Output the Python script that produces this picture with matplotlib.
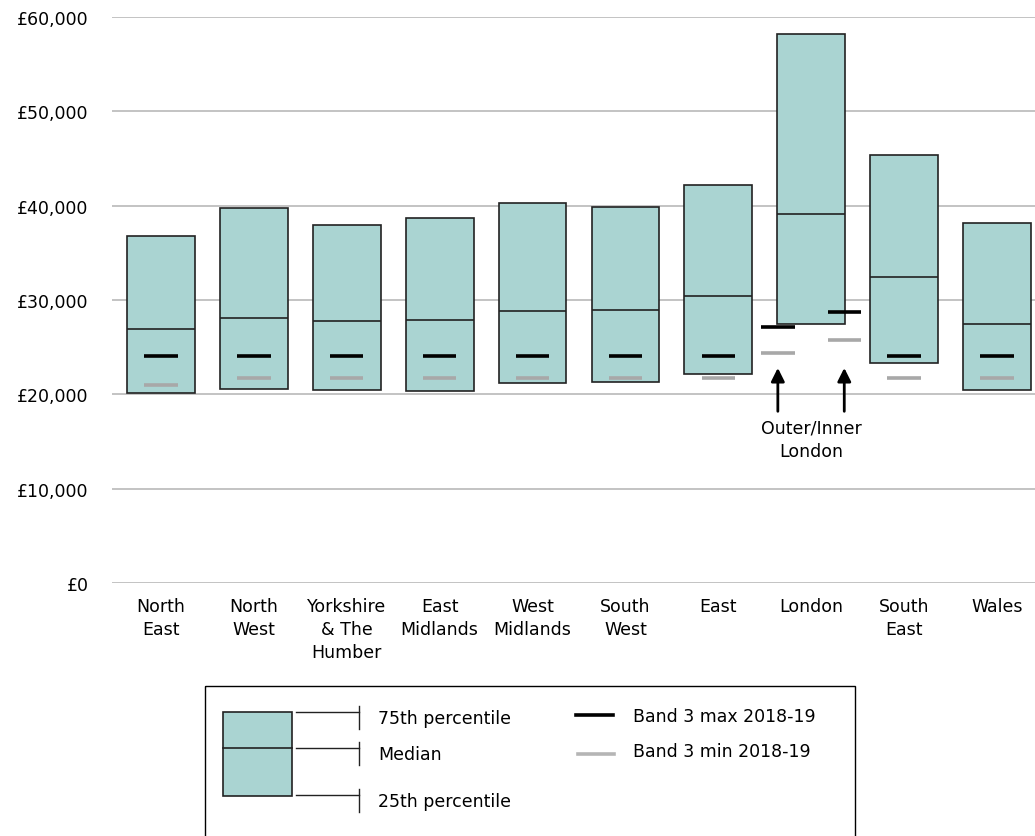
import matplotlib.pyplot as plt
from matplotlib.patches import Rectangle
from matplotlib.ticker import FuncFormatter

plt.rcParams['font.family'] = ['DejaVu Sans']

regions = ["North\nEast", "North\nWest", "Yorkshire\n& The\nHumber", "East\nMidlands",
           "West\nMidlands", "South\nWest", "East", "London", "South\nEast", "Wales"]
p75 = [36800, 39700, 38000, 38700, 40300, 39900, 42200, 58200, 45400, 38200]
median = [26900, 28100, 27800, 27900, 28800, 28900, 30400, 39100, 32400, 27500]
p25 = [20100, 20600, 20500, 20400, 21200, 21300, 22200, 27500, 23300, 20500]

# band 3 pay points; London is split into outer and inner further down
band_max = [24100, 24100, 24100, 24100, 24100, 24100, 24100, None, 24100, 24100]
band_min = [21000, 21700, 21700, 21700, 21700, 21700, 21700, None, 21700, 21700]
london_max = [27100, 28700]   # outer, inner
london_min = [24400, 25800]

yticks = [0, 10000, 20000, 30000, 40000, 50000, 60000]

teal = '#aad4d2'
edge = '#222222'
grey_band = '#a8a8a8'
grid_col = '#b3b3b3'

W, H = 1035, 837
fig = plt.figure(figsize=(W / 100, H / 100), dpi=100)
ax = fig.add_axes([112 / W, 1 - 584 / H, 923 / W, 566 / H])

x = list(range(len(regions)))
bw = 0.73
ax.bar(x, [t - b for t, b in zip(p75, p25)], bottom=p25, width=bw,
       color=teal, edgecolor=edge, linewidth=1.2, zorder=3)
ax.hlines(median, [i - bw / 2 for i in x], [i + bw / 2 for i in x],
          color=edge, linewidth=1.2, zorder=4)

hw = 0.18
for i in x:
    if band_max[i] is not None:
        ax.hlines(band_max[i], i - hw, i + hw, color='black', linewidth=2.6, zorder=5)
        ax.hlines(band_min[i], i - hw, i + hw, color=grey_band, linewidth=2.6, zorder=5)

li = regions.index("London")
for off, mx, mn in zip([-0.36, 0.355], london_max, london_min):
    ax.hlines(mx, li + off - hw, li + off + hw, color='black', linewidth=2.6, zorder=5)
    ax.hlines(mn, li + off - hw, li + off + hw, color=grey_band, linewidth=2.6, zorder=5)
    ax.annotate('', xy=(li + off, 22800), xytext=(li + off, 18200),
                arrowprops=dict(arrowstyle='-|>', color='black', lw=2,
                                mutation_scale=20, shrinkA=0, shrinkB=0))
ax.text(li, 17400, "Outer/Inner\nLondon", ha='center', va='top',
        fontsize=12.5, linespacing=1.35)

ax.set_xlim(-0.527, 9.408)
ax.set_ylim(0, 60000)
ax.set_yticks(yticks)
ax.yaxis.set_major_formatter(FuncFormatter(lambda v, p: f"£{int(v):,}"))
ax.grid(axis='y', color=grid_col, linewidth=1.1, zorder=0)
ax.set_axisbelow(True)
for s in ax.spines.values():
    s.set_visible(False)
ax.set_xticks(x)
ax.set_xticklabels(regions, fontsize=12.5, linespacing=1.35, va='top')
ax.tick_params(axis='both', length=0, labelsize=12.5)
ax.tick_params(axis='y', pad=17)
ax.tick_params(axis='x', pad=10)

# legend drawn in pixel units on an overlay axes
lg = fig.add_axes([0, 0, 1, 1])
lg.set_xlim(0, W)
lg.set_ylim(H, 0)
lg.axis('off')
lg.add_patch(Rectangle((205, 687), 650, 170, fill=False, edgecolor='black', linewidth=1))
lg.add_patch(Rectangle((223, 713), 69, 84, facecolor=teal, edgecolor=edge, linewidth=1.2))
lg.plot([223, 292], [749, 749], color=edge, linewidth=1.2)
for yy, label in zip([713, 749, 796], ["75th percentile", "Median", "25th percentile"]):
    lg.plot([296, 359], [yy, yy], color=edge, linewidth=1)
    lg.plot([359, 359], [yy - 6, yy + 17], color=edge, linewidth=1)
    lg.text(378, yy + 6, label, fontsize=12.5, va='center', ha='left')
lg.plot([576, 613], [716, 716], color='black', linewidth=2.6)
lg.plot([578, 614], [755, 755], color='#b5b5b5', linewidth=2.6)
lg.text(633, 717, "Band 3 max 2018-19", fontsize=12.5, va='center', ha='left')
lg.text(633, 752, "Band 3 min 2018-19", fontsize=12.5, va='center', ha='left')

fig.savefig('out.png', dpi=100)
